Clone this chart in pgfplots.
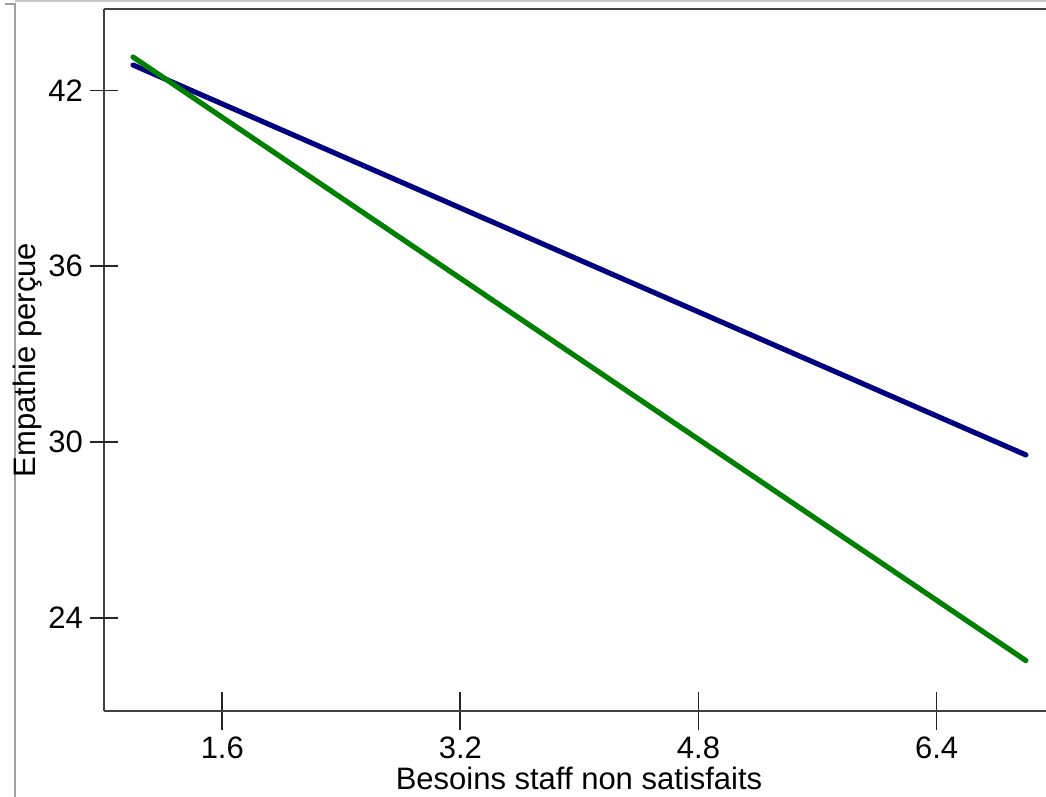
\documentclass[border=0pt]{standalone}
\usepackage{fontspec}
\setmainfont{Liberation Sans}
\usepackage{pgfplots}
\pgfplotsset{compat=1.18}
\definecolor{blueline}{HTML}{000080}
\definecolor{greenline}{HTML}{008000}
\definecolor{axisgray}{HTML}{404040}
\definecolor{framegray}{HTML}{A0A0A0}
\begin{document}
\begin{tikzpicture}
\useasboundingbox (0,0) rectangle (523pt,398.5pt);
\draw[framegray, line width=1pt] (2.5pt,396.5pt) -- (7.5pt,396.5pt) -- (7.5pt,0pt);
\draw[framegray!60, line width=1pt] (7.5pt,398pt) -- (523pt,398pt);
\begin{axis}[
  at={(52pt,43pt)}, anchor=south west,
  scale only axis, width=475pt, height=351pt,
  xmin=0.805, xmax=7.189, ymin=20.82, ymax=44.78,
  axis lines*=left,
  axis line style={axisgray, line width=1pt},
  tick style={black!85, line width=0.9pt},
  tick align=center, major tick length=19pt,
  xtick={1.6,3.2,4.8,6.4},
  xticklabels={1.6,3.2,4.8,6.4},
  ytick=\empty,
  extra y ticks={24,30,36,42},
  extra y tick labels={24,30,36,42},
  extra y tick style={tick align=center, major tick length=14pt},
  font=\fontsize{15.5}{18}\selectfont,
  ticklabel style={font=\fontsize{15.5}{18}\selectfont},
  xlabel={Besoins staff non satisfaits},
  ylabel={Empathie perçue},
  xlabel style={at={(axis description cs:0.5,-0.096)}, anchor=center},
  ylabel style={at={(axis description cs:-0.08,0.5)}, anchor=center, rotate=0},
  clip=false,
]
\draw[axisgray, line width=1pt] (rel axis cs:0,1) -- (rel axis cs:1,1);
\addplot[blueline, line width=2.6pt, line cap=round] coordinates {(1.0,42.87) (7.0,29.56)};
\addplot[greenline, line width=2.6pt, line cap=round] coordinates {(1.0,43.14) (7.0,22.54)};
\end{axis}
\end{tikzpicture}
\end{document}
